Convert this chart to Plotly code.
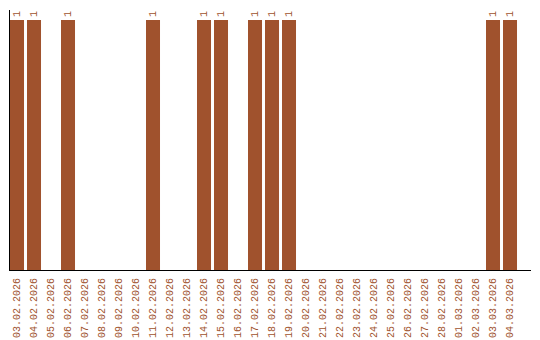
import plotly.graph_objects as go

dates = ["03.02.2026", "04.02.2026", "05.02.2026", "06.02.2026", "07.02.2026",
         "08.02.2026", "09.02.2026", "10.02.2026", "11.02.2026", "12.02.2026",
         "13.02.2026", "14.02.2026", "15.02.2026", "16.02.2026", "17.02.2026",
         "18.02.2026", "19.02.2026", "20.02.2026", "21.02.2026", "22.02.2026",
         "23.02.2026", "24.02.2026", "25.02.2026", "26.02.2026", "27.02.2026",
         "28.02.2026", "01.03.2026", "02.03.2026", "03.03.2026", "04.03.2026"]
counts = [1, 1, 0, 1, 0, 0, 0, 0, 1, 0,
          0, 1, 1, 0, 1, 1, 1, 0, 0, 0,
          0, 0, 0, 0, 0, 0, 0, 0, 1, 1]
labels = [str(v) if v else "" for v in counts]

color = "#A0522D"
mono = "Liberation Mono"

fig = go.Figure(go.Bar(
    x=list(range(len(dates))), y=counts,
    marker=dict(color=color, line=dict(width=0)),
    text=labels, textposition="outside", textangle=-90,
    textfont=dict(family=mono, size=10, color=color),
    cliponaxis=False,
))

fig.update_layout(
    width=540, height=340,
    margin=dict(l=10, r=9, t=10, b=70, autoexpand=False),
    paper_bgcolor="white", plot_bgcolor="white",
    bargap=0.176, showlegend=False,
    xaxis=dict(
        range=[-0.412, 30.235], automargin=False,
        tickmode="array", tickvals=list(range(len(dates))), ticktext=dates,
        tickangle=-90, tickfont=dict(family=mono, size=10, color=color),
        showline=True, linecolor="black", linewidth=1,
        showgrid=False, zeroline=False, ticks="outside", ticklen=3, tickcolor="rgba(0,0,0,0)",
    ),
    yaxis=dict(
        range=[0, 1.04], showticklabels=False, automargin=False,
        showline=True, linecolor="black", linewidth=1,
        showgrid=False, zeroline=False, ticks="",
    ),
)

fig.write_html("out.html")
